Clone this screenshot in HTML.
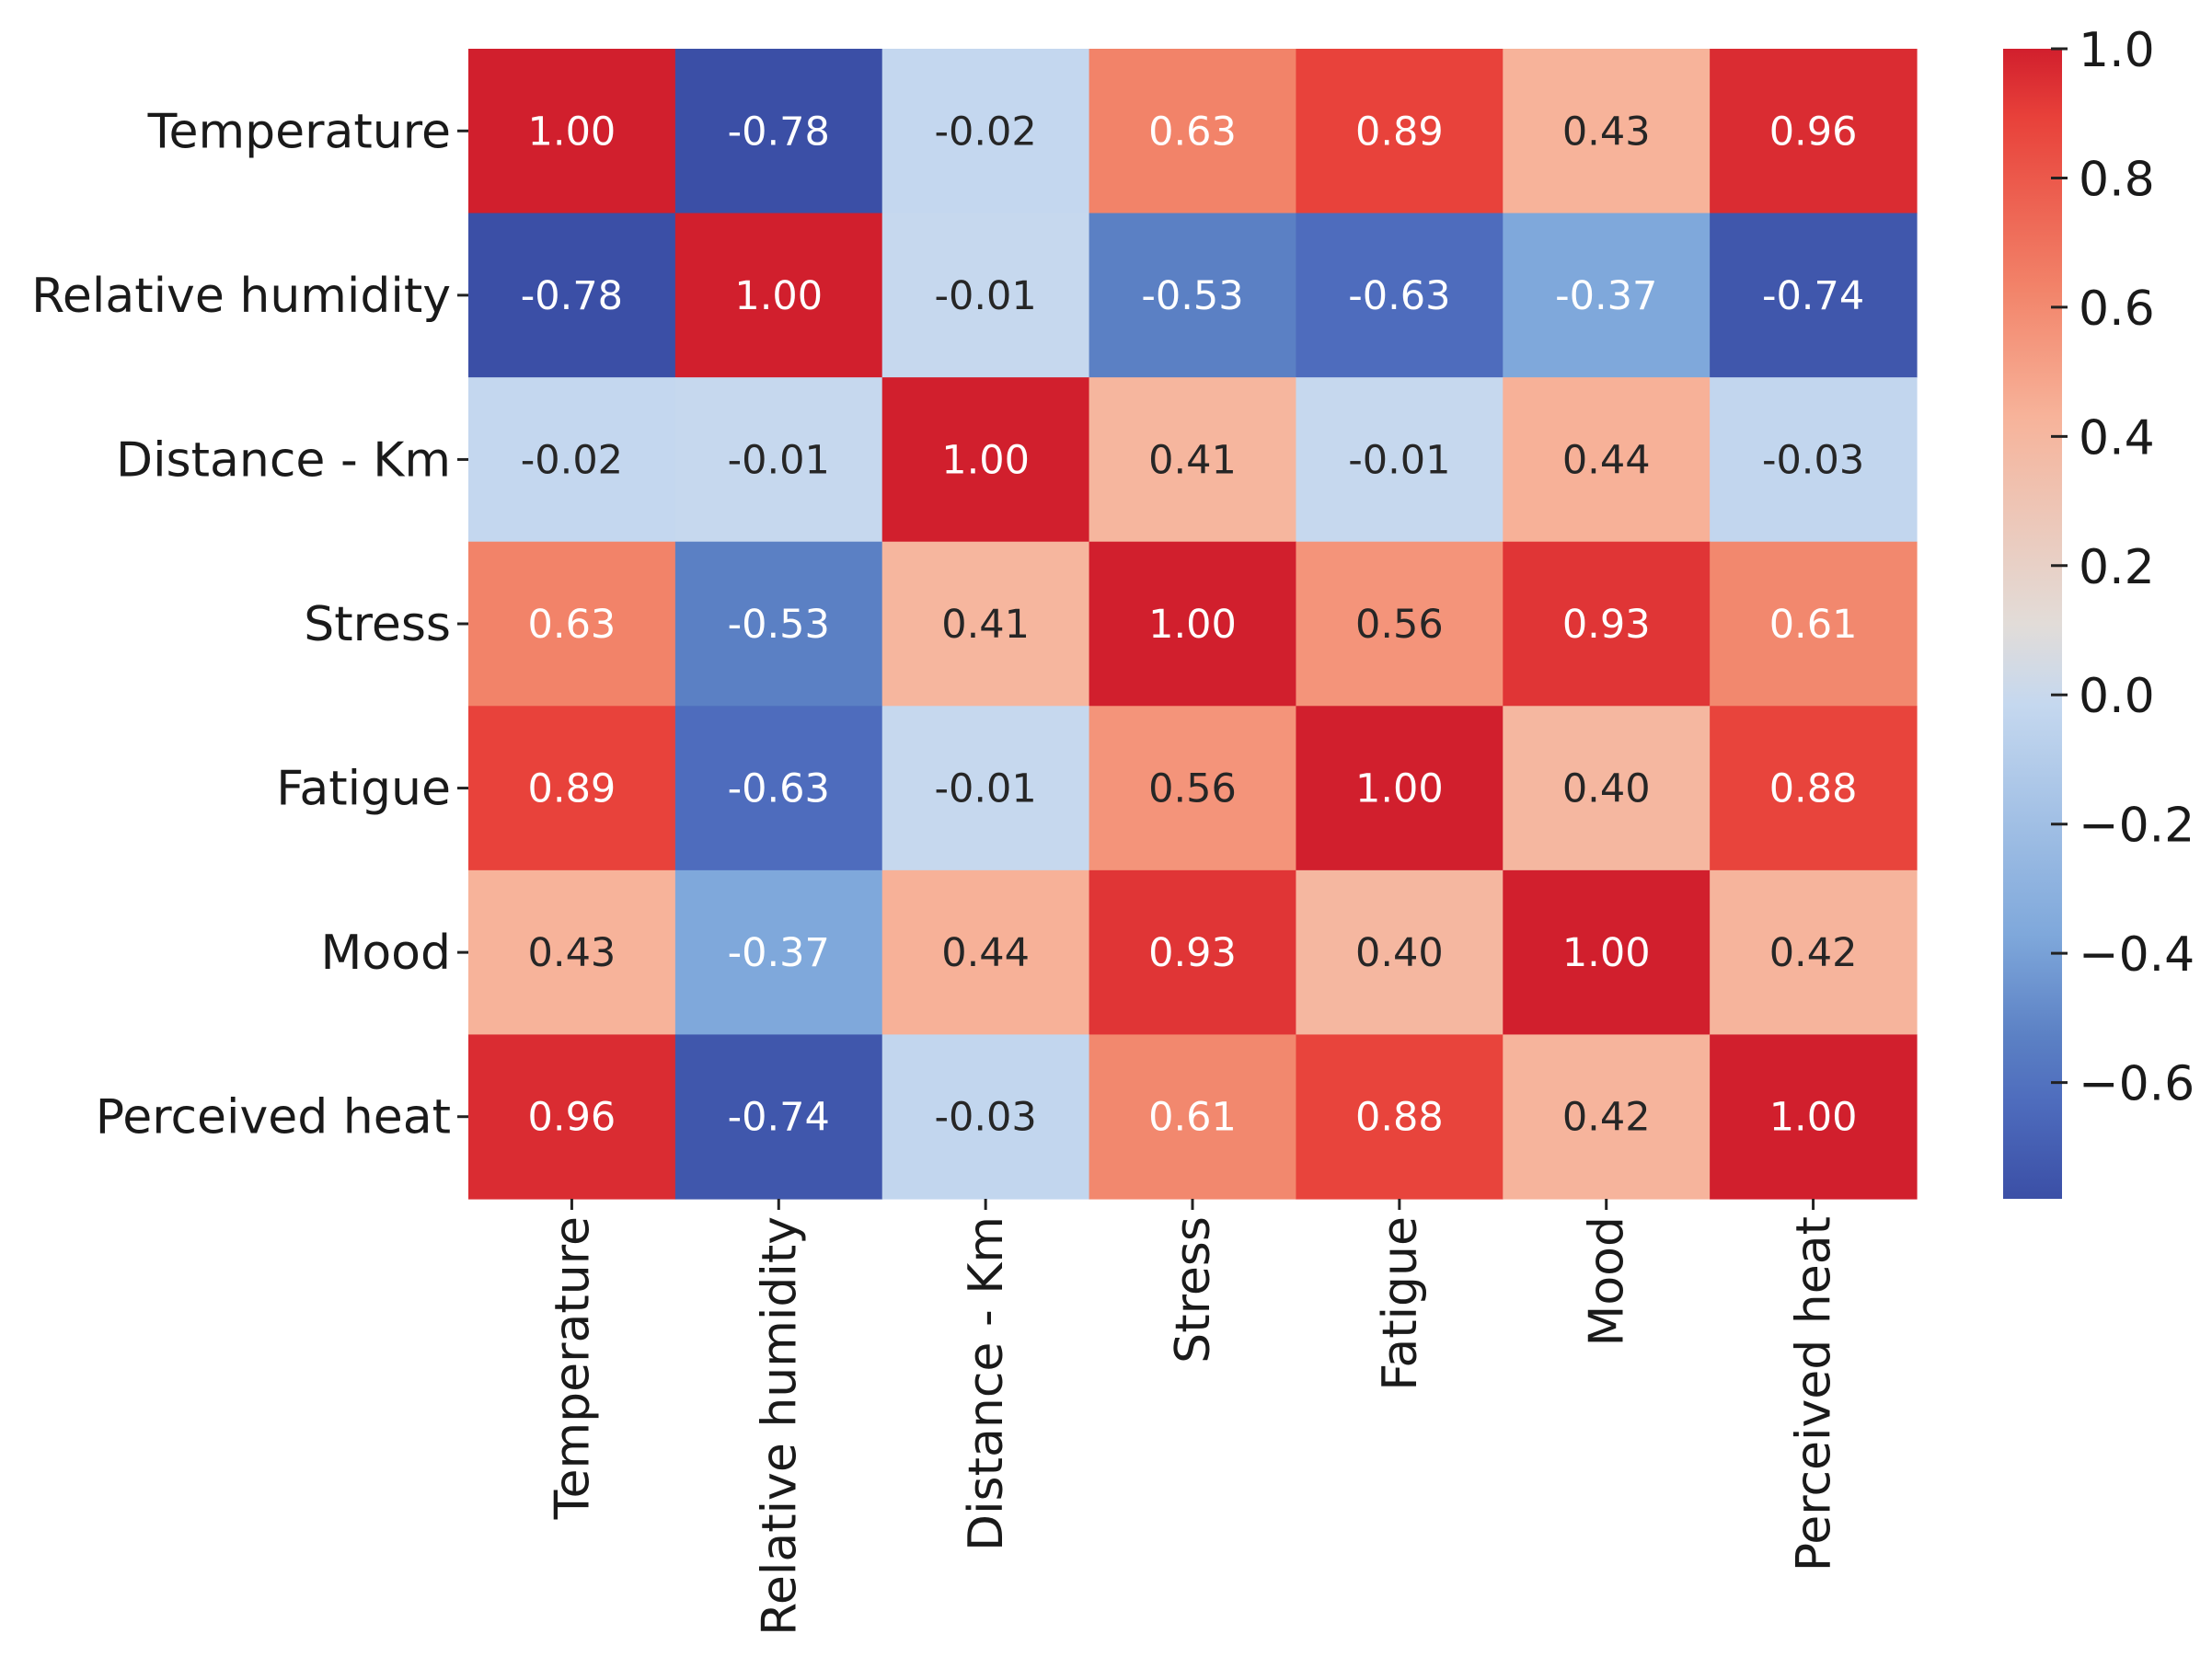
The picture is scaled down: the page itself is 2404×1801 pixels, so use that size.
<!DOCTYPE html>
<html><head><meta charset="utf-8"><style>
html,body{margin:0;padding:0;background:#fff;}
svg{display:block;}
text{font-family:"DejaVu Sans","Liberation Sans",sans-serif;}
</style></head><body>
<svg id="chart" width="2404" height="1801" xmlns="http://www.w3.org/2000/svg">
<g id="cells"></g>
<g id="ylabels"></g>
<g id="xlabels"></g>
<g id="cbar"></g>
</svg>
<script>
const labels = ["Temperature","Relative humidity","Distance - Km","Stress","Fatigue","Mood","Perceived heat"];
const row0 = [1.00,-0.78,-0.02,0.63,0.89,0.43,0.96];
const row1 = [-0.78,1.00,-0.01,-0.53,-0.63,-0.37,-0.74];
const row2 = [-0.02,-0.01,1.00,0.41,-0.01,0.44,-0.03];
const row3 = [0.63,-0.53,0.41,1.00,0.56,0.93,0.61];
const row4 = [0.89,-0.63,-0.01,0.56,1.00,0.40,0.88];
const row5 = [0.43,-0.37,0.44,0.93,0.40,1.00,0.42];
const row6 = [0.96,-0.74,-0.03,0.61,0.88,0.42,1.00];
const cbTicks = [1.0,0.8,0.6,0.4,0.2,0.0,-0.2,-0.4,-0.6];
const cbTickLabels = ["1.0","0.8","0.6","0.4","0.2","0.0","\u22120.2","\u22120.4","\u22120.6"];
const vmin = -0.78, vmax = 1.0;

const rows=[row0,row1,row2,row3,row4,row5,row6];
const NS="http://www.w3.org/2000/svg";
const L=509,R=2083,T=53,B=1303;
const cw=(R-L)/labels.length, ch=(B-T)/labels.length;
const xc=i=>L+cw*i; const yc=i=>T+ch*i;
const stops=[[0,[59,79,166]],[0.084,[78,108,189]],[0.14,[91,128,196]],[0.23,[127,168,219]],[0.43,[197,216,239]],[0.5,[226,220,216]],[0.68,[247,179,154]],[0.79,[242,132,106]],[0.94,[232,65,58]],[1,[209,31,45]]];
function color(v){let t=(v-vmin)/(vmax-vmin);t=Math.max(0,Math.min(1,t));
 for(let k=1;k<stops.length;k++){if(t<=stops[k][0]){const a=stops[k-1],b=stops[k];const f=(t-a[0])/(b[0]-a[0]);
  const c=a[1].map((x,j)=>Math.round(x+(b[1][j]-x)*f));return `rgb(${c[0]},${c[1]},${c[2]})`;}}
 return "rgb(209,31,45)";}
function mk(tag,attrs,parent){const e=document.createElementNS(NS,tag);for(const k in attrs)e.setAttribute(k,attrs[k]);parent.appendChild(e);return e;}
const gc=document.getElementById('cells');
rows.forEach((row,r)=>row.forEach((v,c)=>{
 const rect=mk('rect',{x:xc(c),y:yc(r),width:cw+0.6,height:ch+0.6,fill:color(v)},gc);
 
 
 const t=mk('text',{x:xc(c)+cw/2,y:yc(r)+ch/2+15,'text-anchor':'middle','font-size':43,fill:(v>=0.6||v<=-0.3)?'#fff':'#262626'},gc);
 
 
 t.textContent=v.toFixed(2);
}));
const gy=document.getElementById('ylabels'), gx=document.getElementById('xlabels');
labels.forEach((lab,i)=>{
 const cy=yc(i)+ch/2;
 mk('line',{x1:L-12,x2:L,y1:cy,y2:cy,stroke:'#222','stroke-width':3},gy);
 const t=mk('text',{x:L-19,y:cy+18,'text-anchor':'end','font-size':52,fill:'#1a1a1a'},gy);
 
 
 t.textContent=lab;
 const cx=xc(i)+cw/2;
 mk('line',{x1:cx,x2:cx,y1:B,y2:B+12,stroke:'#222','stroke-width':3},gx);
 const u=mk('text',{x:0,y:0,'text-anchor':'end','font-size':52,fill:'#1a1a1a',transform:`translate(${cx+18},${B+19}) rotate(-90)`},gx);
 
 
 u.textContent=lab;
});
const gb=document.getElementById('cbar');
const CL=2177,CR=2241;
const defs=mk('defs',{},gb);
const grad=mk('linearGradient',{id:'cg',x1:0,y1:1,x2:0,y2:0},defs);
stops.forEach(s=>mk('stop',{offset:s[0],'stop-color':`rgb(${s[1].join(',')})`},grad));
const cb=mk('rect',{x:CL,y:T,width:CR-CL,height:B-T,fill:'url(#cg)'},gb);


const cy=v=>T+(vmax-v)/(vmax-vmin)*(B-T);
cbTicks.forEach((v,i)=>{
 const y=cy(v);
 mk('line',{x1:CR-12,x2:CR+6,y1:y,y2:y,stroke:'#222','stroke-width':3},gb);
 const t=mk('text',{x:2259,y:y+19,'font-size':52,fill:'#1a1a1a'},gb);
 
 
 t.textContent=cbTickLabels[i];
});
</script>
</body></html>
